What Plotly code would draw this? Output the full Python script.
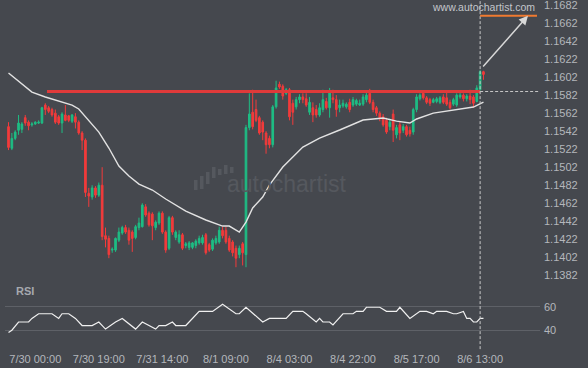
import plotly.graph_objects as go

# ---------------- data ----------------
bar_index = list(range(143))

opens = [1.1547, 1.1523, 1.1534, 1.1543, 1.1544, 1.1557, 1.1552, 1.1549, 1.1550, 1.1551,
         1.1551, 1.1571, 1.1568, 1.1566, 1.1562, 1.1558, 1.1551, 1.1560, 1.1559, 1.1553,
         1.1558, 1.1552, 1.1540, 1.1532, 1.1473, 1.1469, 1.1479, 1.1471, 1.1482, 1.1426,
         1.1423, 1.1410, 1.1410, 1.1421, 1.1429, 1.1435, 1.1432, 1.1430, 1.1424, 1.1435,
         1.1436, 1.1458, 1.1451, 1.1450, 1.1435, 1.1440, 1.1451, 1.1430, 1.1412, 1.1446,
         1.1424, 1.1419, 1.1427, 1.1415, 1.1413, 1.1413, 1.1415, 1.1418, 1.1418, 1.1427,
         1.1416, 1.1411, 1.1418, 1.1419, 1.1432, 1.1432, 1.1423, 1.1419, 1.1412, 1.1405,
         1.1417, 1.1405, 1.1546, 1.1563, 1.1566, 1.1557, 1.1552, 1.1540, 1.1534, 1.1527,
         1.1569, 1.1594, 1.1592, 1.1584, 1.1588, 1.1573, 1.1569, 1.1577, 1.1580, 1.1578,
         1.1563, 1.1568, 1.1566, 1.1560, 1.1566, 1.1575, 1.1568, 1.1579, 1.1577, 1.1568,
         1.1570, 1.1569, 1.1574, 1.1571, 1.1572, 1.1571, 1.1572, 1.1577, 1.1584, 1.1574,
         1.1568, 1.1562, 1.1558, 1.1554, 1.1547, 1.1561, 1.1538, 1.1549, 1.1543, 1.1547,
         1.1543, 1.1541, 1.1566, 1.1578, 1.1584, 1.1579, 1.1577, 1.1574, 1.1575, 1.1574,
         1.1580, 1.1579, 1.1574, 1.1572, 1.1571, 1.1580, 1.1582, 1.1578, 1.1581, 1.1580,
         1.1575, 1.1588, 1.1608]

highs = [1.1552, 1.1540, 1.1543, 1.1560, 1.1552, 1.1560, 1.1554, 1.1552, 1.1553, 1.1554,
         1.1569, 1.1573, 1.1570, 1.1568, 1.1566, 1.1560, 1.1563, 1.1571, 1.1560, 1.1561,
         1.1562, 1.1554, 1.1542, 1.1534, 1.1479, 1.1482, 1.1481, 1.1485, 1.1502, 1.1435,
         1.1426, 1.1413, 1.1424, 1.1435, 1.1437, 1.1438, 1.1435, 1.1432, 1.1438, 1.1446,
         1.1462, 1.1461, 1.1453, 1.1452, 1.1443, 1.1453, 1.1453, 1.1432, 1.1448, 1.1448,
         1.1432, 1.1432, 1.1429, 1.1419, 1.1420, 1.1419, 1.1422, 1.1426, 1.1427, 1.1429,
         1.1418, 1.1423, 1.1426, 1.1436, 1.1436, 1.1436, 1.1426, 1.1421, 1.1415, 1.1415,
         1.1419, 1.1549, 1.1584, 1.1588, 1.1577, 1.1559, 1.1554, 1.1542, 1.1537, 1.1571,
         1.1598, 1.1597, 1.1594, 1.1590, 1.1590, 1.1577, 1.1580, 1.1583, 1.1584, 1.1584,
         1.1580, 1.1574, 1.1571, 1.1573, 1.1588, 1.1579, 1.1590, 1.1588, 1.1582, 1.1577,
         1.1577, 1.1574, 1.1578, 1.1580, 1.1578, 1.1577, 1.1583, 1.1587, 1.1589, 1.1577,
         1.1570, 1.1564, 1.1561, 1.1557, 1.1556, 1.1566, 1.1549, 1.1552, 1.1550, 1.1549,
         1.1547, 1.1568, 1.1583, 1.1584, 1.1586, 1.1581, 1.1579, 1.1579, 1.1580, 1.1581,
         1.1583, 1.1586, 1.1577, 1.1579, 1.1584, 1.1586, 1.1584, 1.1583, 1.1588, 1.1582,
         1.1593, 1.1610, 1.1609]

lows = [1.1521, 1.1521, 1.1532, 1.1538, 1.1540, 1.1548, 1.1543, 1.1547, 1.1549, 1.1550,
        1.1550, 1.1560, 1.1562, 1.1558, 1.1550, 1.1549, 1.1540, 1.1553, 1.1552, 1.1551,
        1.1545, 1.1538, 1.1521, 1.1469, 1.1458, 1.1466, 1.1468, 1.1469, 1.1421, 1.1413,
        1.1401, 1.1407, 1.1408, 1.1419, 1.1427, 1.1428, 1.1416, 1.1408, 1.1422, 1.1432,
        1.1435, 1.1447, 1.1436, 1.1421, 1.1432, 1.1438, 1.1428, 1.1407, 1.1410, 1.1427,
        1.1421, 1.1417, 1.1410, 1.1412, 1.1410, 1.1411, 1.1412, 1.1416, 1.1416, 1.1405,
        1.1408, 1.1409, 1.1416, 1.1417, 1.1423, 1.1417, 1.1408, 1.1403, 1.1391, 1.1401,
        1.1393, 1.1391, 1.1543, 1.1544, 1.1552, 1.1538, 1.1532, 1.1517, 1.1523, 1.1524,
        1.1567, 1.1589, 1.1577, 1.1582, 1.1554, 1.1549, 1.1566, 1.1573, 1.1573, 1.1569,
        1.1560, 1.1552, 1.1557, 1.1558, 1.1563, 1.1566, 1.1557, 1.1573, 1.1558, 1.1563,
        1.1568, 1.1567, 1.1563, 1.1569, 1.1570, 1.1570, 1.1570, 1.1574, 1.1572, 1.1563,
        1.1559, 1.1553, 1.1547, 1.1539, 1.1543, 1.1530, 1.1534, 1.1532, 1.1540, 1.1536,
        1.1536, 1.1538, 1.1563, 1.1576, 1.1577, 1.1572, 1.1570, 1.1573, 1.1573, 1.1572,
        1.1572, 1.1570, 1.1566, 1.1570, 1.1569, 1.1578, 1.1575, 1.1575, 1.1572, 1.1568,
        1.1574, 1.1587, 1.1599]

closes = [1.1524, 1.1534, 1.1541, 1.1551, 1.1550, 1.1551, 1.1548, 1.1550, 1.1552, 1.1552,
          1.1568, 1.1566, 1.1564, 1.1560, 1.1552, 1.1551, 1.1561, 1.1554, 1.1554, 1.1560,
          1.1552, 1.1540, 1.1532, 1.1474, 1.1470, 1.1479, 1.1471, 1.1482, 1.1425, 1.1422,
          1.1405, 1.1411, 1.1423, 1.1430, 1.1435, 1.1430, 1.1421, 1.1423, 1.1436, 1.1440,
          1.1460, 1.1449, 1.1438, 1.1437, 1.1441, 1.1451, 1.1430, 1.1410, 1.1446, 1.1430,
          1.1430, 1.1427, 1.1412, 1.1417, 1.1418, 1.1418, 1.1420, 1.1423, 1.1424, 1.1407,
          1.1410, 1.1421, 1.1423, 1.1432, 1.1426, 1.1419, 1.1410, 1.1407, 1.1401, 1.1412,
          1.1407, 1.1546, 1.1561, 1.1547, 1.1554, 1.1540, 1.1541, 1.1527, 1.1527, 1.1569,
          1.1590, 1.1591, 1.1581, 1.1588, 1.1558, 1.1563, 1.1577, 1.1580, 1.1577, 1.1571,
          1.1574, 1.1560, 1.1560, 1.1568, 1.1577, 1.1568, 1.1586, 1.1577, 1.1566, 1.1571,
          1.1573, 1.1572, 1.1566, 1.1577, 1.1576, 1.1573, 1.1580, 1.1582, 1.1574, 1.1566,
          1.1562, 1.1557, 1.1549, 1.1541, 1.1552, 1.1543, 1.1546, 1.1540, 1.1547, 1.1538,
          1.1539, 1.1566, 1.1580, 1.1582, 1.1579, 1.1574, 1.1573, 1.1577, 1.1578, 1.1579,
          1.1574, 1.1572, 1.1568, 1.1577, 1.1582, 1.1582, 1.1578, 1.1581, 1.1577, 1.1573,
          1.1590, 1.1608, 1.1605]

ma_index = [0, 3, 7, 11, 15, 19, 21, 24, 27, 30, 33, 36, 39, 43, 47, 53, 59, 64, 66, 69,
            71, 73, 76, 78, 82, 88, 93, 99, 106, 112, 116, 120, 122, 127, 131, 135, 139, 142]
ma_values = [1.16065, 1.15976, 1.15854, 1.15799, 1.15754, 1.1571, 1.15666, 1.15532, 1.1541,
             1.15233, 1.15033, 1.14922, 1.14833, 1.14767, 1.14667, 1.14533, 1.14434, 1.14367,
             1.14367, 1.143, 1.14411, 1.14567, 1.14689, 1.14822, 1.15022, 1.15244, 1.15344,
             1.15433, 1.15544, 1.15566, 1.15532, 1.1551, 1.15555, 1.15621, 1.15643, 1.15666,
             1.15688, 1.15743]

rsi_index = [0, 1, 3, 6, 7, 9, 13, 15, 16, 18, 20, 22, 25, 27, 29, 32, 34, 38, 40, 44, 45,
             47, 49, 50, 53, 55, 57, 61, 64, 68, 69, 71, 75, 76, 78, 83, 85, 88, 89, 92, 93,
             94, 96, 97, 100, 103, 104, 106, 107, 111, 113, 116, 117, 120, 123, 125, 127,
             128, 131, 133, 134, 136, 137, 138, 139, 140, 141, 142]
rsi_values = [38, 40, 47, 47, 50, 54, 54, 50, 54, 54, 50, 44, 44, 47, 41, 47, 50, 41, 47, 41,
              44, 44, 47, 44, 44, 50, 56, 56, 62, 54, 54, 59.5, 50, 47, 50, 50, 56, 56, 54, 47,
              50, 47, 47, 44.5, 54, 54, 56, 56, 59.5, 59.5, 56, 56, 59.5, 50, 56, 56, 54, 56,
              56, 54, 54, 56, 50, 50, 47, 47, 50, 50]

x_tick_index = [8, 27, 46, 65, 84, 103, 122, 141]
x_tick_labels = ["7/30 00:00", "7/30 19:00", "7/31 14:00", "8/1 09:00",
                 "8/4 03:00", "8/4 22:00", "8/5 17:00", "8/6 13:00"]
price_ticks = [1.1382, 1.1402, 1.1422, 1.1442, 1.1462, 1.1482, 1.1502, 1.1522,
               1.1542, 1.1562, 1.1582, 1.1602, 1.1622, 1.1642, 1.1662, 1.1682]
price_tick_labels = ["1.1382", "1.1402", "1.1422", "1.1442", "1.1462", "1.1482", "1.1502",
                     "1.1522", "1.1542", "1.1562", "1.1582", "1.1602", "1.1622", "1.1642",
                     "1.1662", "1.1682"]
rsi_levels = [40, 60]

resistance_level = 1.1586
resistance_start = 11.5
breakout_index = 141
target_level = 1.1670
target_end_index = 158
arrow_from = (141.5, 1.1612)
arrow_to = (155.3, 1.1670)

# ---------------- style ----------------
BG = "#45484e"
GREEN = "#1ebd84"
RED = "#f23b3b"
TXT = "#b4b7bc"
FONT = "Liberation Sans, Arial, sans-serif"

X_RANGE = [-1.05, 158.9]
PRICE_RANGE = [1.13768, 1.16876]
RSI_RANGE = [27.5, 82.6]
SPLIT = 0.1884

fig = go.Figure()

fig.add_trace(go.Candlestick(
    x=bar_index, open=opens, high=highs, low=lows, close=closes,
    increasing=dict(line=dict(color=GREEN, width=1), fillcolor=GREEN),
    decreasing=dict(line=dict(color=RED, width=1), fillcolor=RED),
    whiskerwidth=0, xaxis="x", yaxis="y", showlegend=False, hoverinfo="skip"))

fig.add_trace(go.Scatter(
    x=ma_index, y=ma_values, mode="lines", line=dict(color="#e2e2e2", width=1.4),
    xaxis="x", yaxis="y", showlegend=False, hoverinfo="skip"))

fig.add_trace(go.Scatter(
    x=rsi_index, y=rsi_values, mode="lines", line=dict(color="#f0f0f0", width=1.2),
    xaxis="x", yaxis="y2", showlegend=False, hoverinfo="skip"))

shapes = [
    dict(type="line", xref="x", yref="y", x0=resistance_start, x1=breakout_index,
         y0=resistance_level, y1=resistance_level, line=dict(color="#e03a3a", width=3)),
    dict(type="line", xref="x", yref="y", x0=breakout_index, x1=X_RANGE[1],
         y0=resistance_level, y1=resistance_level,
         line=dict(color="#c8c8c8", width=1, dash="3px,2px")),
    dict(type="line", xref="x", yref="paper", x0=breakout_index, x1=breakout_index,
         y0=-0.012, y1=1, line=dict(color="#c8c8c8", width=1, dash="3px,2px")),
    dict(type="line", xref="x", yref="y", x0=breakout_index, x1=target_end_index,
         y0=target_level, y1=target_level, line=dict(color="#f07a30", width=2)),
]

# watermark logo bars (decoration, in pixels of the plot area)
PW, PH, L = 535.0, 345.0, 5.0
def px(xp):
    return (xp - L) / PW
def py(yp):
    return 1 - yp / PH
logo = [(194, 180, 190), (200, 176, 189), (206, 172, 184), (212, 167, 178),
        (218, 169, 175), (224, 165, 174), (230, 167, 173)]
for xl, yt, yb in logo:
    shapes.append(dict(type="rect", xref="paper", yref="paper", x0=px(xl), x1=px(xl + 3.5),
                       y0=py(yb), y1=py(yt), line=dict(width=0), fillcolor="#55585e",
                       layer="below"))

annotations = [
    dict(x=arrow_to[0], y=arrow_to[1], ax=arrow_from[0], ay=arrow_from[1],
         xref="x", yref="y", axref="x", ayref="y", text="", showarrow=True,
         arrowhead=2, arrowsize=1.2, arrowwidth=1.5, arrowcolor="#d8d8d8"),
    dict(x=px(483), y=py(7), xref="paper", yref="paper", text="www.autochartist.com",
         xanchor="center", yanchor="middle", showarrow=False,
         font=dict(family=FONT, size=10.5, color="#c3c6cb")),
    dict(x=px(287), y=py(184), xref="paper", yref="paper", text="autochartist",
         xanchor="center", yanchor="middle", showarrow=False,
         font=dict(family=FONT, size=23, color="#55585e")),
    dict(x=px(14), y=py(291), xref="paper", yref="paper", text="<b>RSI</b>",
         xanchor="left", yanchor="middle", showarrow=False,
         font=dict(family=FONT, size=11, color="#a6a9ae")),
]

fig.update_layout(
    template="none",
    width=588, height=368,
    margin=dict(l=5, r=48, t=0, b=23, autoexpand=False),
    paper_bgcolor=BG, plot_bgcolor=BG,
    font=dict(family=FONT, size=11, color=TXT),
    showlegend=False,
    xaxis=dict(domain=[0, 1], range=X_RANGE, anchor="y2", tickmode="array",
               tickvals=x_tick_index, ticktext=x_tick_labels, showgrid=False,
               zeroline=False, showline=False, ticks="", automargin=False,
               ticklabelstandoff=6,
               rangeslider=dict(visible=False), tickfont=dict(size=11, color=TXT)),
    yaxis=dict(domain=[SPLIT, 1], range=PRICE_RANGE, side="right", anchor="x",
               tickmode="array", tickvals=price_ticks, ticktext=price_tick_labels,
               showgrid=False, zeroline=False, showline=False, ticks="", automargin=False,
               ticklabelstandoff=3, ticklabeloverflow="allow",
               tickfont=dict(size=11, color=TXT)),
    yaxis2=dict(domain=[0, SPLIT], range=RSI_RANGE, side="right", anchor="x",
                tickmode="array", tickvals=rsi_levels, showgrid=True, gridcolor="#5e6167",
                gridwidth=1, zeroline=False, showline=False, ticks="", automargin=False,
                ticklabelstandoff=3, tickfont=dict(size=11, color=TXT)),
    shapes=shapes, annotations=annotations,
)

fig.write_html("out.html", config={"displayModeBar": False},
               post_script="document.body.style.margin='0';document.body.style.background='%s';" % BG)
